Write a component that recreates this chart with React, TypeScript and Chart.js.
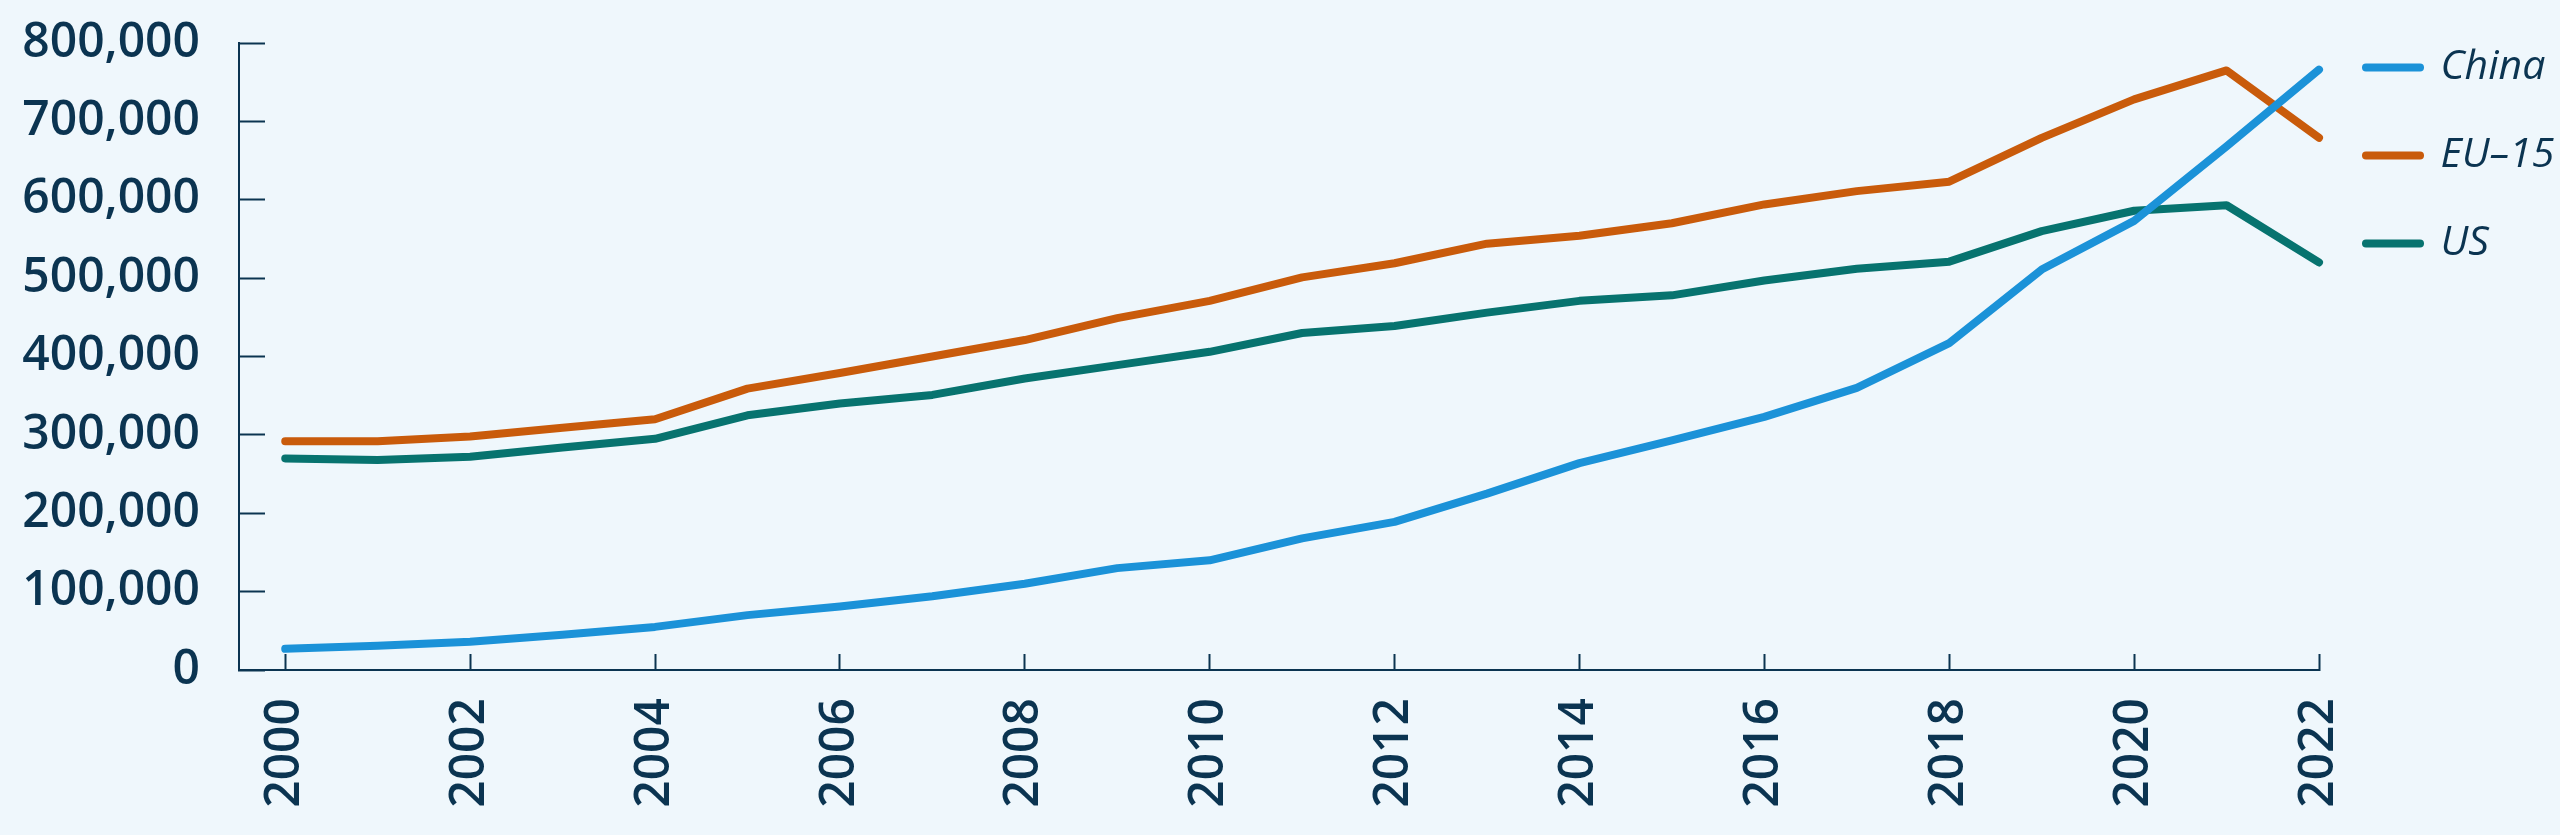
import React, { useEffect, useRef } from "react";
import { Chart, registerables } from "chart.js";

Chart.register(...registerables);

const years = [2000, 2001, 2002, 2003, 2004, 2005, 2006, 2007, 2008, 2009, 2010, 2011, 2012, 2013, 2014, 2015, 2016, 2017, 2018, 2019, 2020, 2021, 2022];
const tickYears = [2000, 2002, 2004, 2006, 2008, 2010, 2012, 2014, 2016, 2018, 2020, 2022];

const china = [27000, 31000, 36000, 45000, 55000, 70000, 81000, 94000, 110000, 130000, 140000, 168000, 189000, 225000, 264000, 293000, 323000, 360000, 417000, 511000, 573000, 668000, 766000];
const eu15 = [292000, 292000, 298000, 309000, 320000, 359000, 379000, 400000, 421000, 449000, 471000, 501000, 519000, 544000, 554000, 570000, 594000, 611000, 623000, 679000, 728000, 765000, 679000];
const us = [270000, 268000, 272000, 284000, 295000, 325000, 340000, 351000, 372000, 389000, 406000, 430000, 439000, 456000, 471000, 478000, 497000, 512000, 521000, 560000, 586000, 593000, 520000];

const seriesNames = ["China", "EU–15", "US"];
const seriesColors = ["#1b92d8", "#c95b0b", "#07736f"];

const NAVY = "#0b3451";
const BG = "#eff7fc";

export default function App() {
  const canvasRef = useRef<HTMLCanvasElement | null>(null);

  useEffect(() => {
    document.body.style.margin = "0";
    document.body.style.background = BG;
    const canvas = canvasRef.current;
    if (!canvas) return;
    const seriesData = [china, eu15, us];
    const chart = new Chart(canvas, {
      type: "line",
      data: {
        datasets: seriesData.map((vals, i) => ({
          label: seriesNames[i],
          data: vals.map((v, j) => ({ x: years[j], y: v })),
          borderColor: seriesColors[i],
          backgroundColor: seriesColors[i],
          borderWidth: 8,
          borderCapStyle: "round",
          borderJoinStyle: "round",
          pointRadius: 0,
          pointHoverRadius: 0,
          tension: 0,
          clip: false,
        })),
      },
      options: {
        animation: false,
        responsive: true,
        maintainAspectRatio: false,
        layout: { padding: 0 },
        plugins: {
          tooltip: { enabled: false },
          legend: {
            display: true,
            position: "right",
            align: "start",
            maxWidth: 241,
            labels: {
              usePointStyle: true,
              pointStyle: "line",
              pointStyleWidth: 54,
              padding: 47,
              color: NAVY,
              font: { family: "Open Sans", size: 41, style: "italic", weight: "normal" },
              generateLabels: (c: any) =>
                Chart.defaults.plugins.legend.labels.generateLabels(c).map((l: any) => ({
                  ...l,
                  lineWidth: 8,
                  lineCap: "round",
                  pointStyle: "line",
                  strokeStyle: seriesColors[l.datasetIndex],
                  fillStyle: seriesColors[l.datasetIndex],
                })),
            },
          },
        },
        scales: {
          x: {
            type: "linear",
            min: 1999.5,
            max: 2022,
            afterBuildTicks: (scale: any) => {
              scale.ticks = tickYears.map((v) => ({ value: v }));
            },
            afterFit: (scale: any) => {
              scale.height = 165;
            },
            grid: {
              display: true,
              drawOnChartArea: false,
              drawTicks: true,
              tickLength: -16,
              tickWidth: 2,
              tickColor: NAVY,
            },
            border: { display: true, color: NAVY, width: 2 },
            ticks: {
              minRotation: 90,
              maxRotation: 90,
              padding: 44,
              color: NAVY,
              font: { family: "Open Sans", size: 48, weight: "600" },
              callback: (value: any) => String(value),
            },
          },
          y: {
            type: "linear",
            min: 0,
            max: 800000,
            afterFit: (scale: any) => {
              scale.width = 239;
              scale.paddingTop = 43;
            },
            grid: {
              display: true,
              drawOnChartArea: false,
              drawTicks: true,
              tickLength: -26,
              tickWidth: 2,
              tickColor: NAVY,
            },
            border: { display: true, color: NAVY, width: 2 },
            ticks: {
              stepSize: 100000,
              padding: 65,
              color: NAVY,
              font: { family: "Open Sans", size: 48, weight: "600" },
              callback: (value: any) => Number(value).toLocaleString("en-US"),
            },
          },
        },
      },
    });
    return () => chart.destroy();
  }, []);

  return (
    <div style={{ position: "relative", width: "2560px", height: "835px", background: BG }}>
      <canvas ref={canvasRef} />
    </div>
  );
}
